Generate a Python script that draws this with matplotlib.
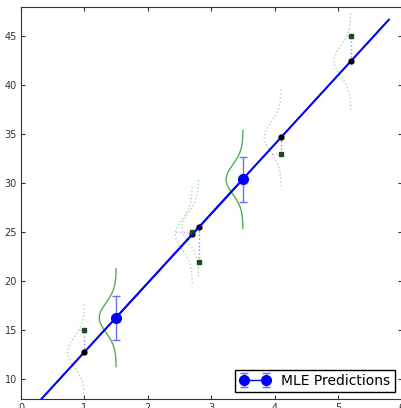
import matplotlib
matplotlib.use('Agg')
import matplotlib.pyplot as plt
import numpy as np

# observed data
x_obs = [1.0, 2.7, 2.8, 4.1, 5.2]
y_obs = [15.0, 25.0, 22.0, 33.0, 45.0]
# fitted values on the line at the observed x
y_fit = [12.8, 24.8, 25.5, 34.7, 42.5]

# MLE predictions with error bars
x_pred = [1.5, 3.5]
y_pred = [16.3, 30.4]
y_err = [2.25, 2.25]

# fitted line end points
line_x = [0.0, 5.8]
line_y = [5.73, 46.7]

sigma = 1.5
half_span = 5.0

fig = plt.figure(figsize=(4.02, 4.08), dpi=100)
ax = fig.add_axes([21/402, 9/408, 380.5/402, 392/408])

ax.plot(line_x, line_y, color='blue', lw=1.5, zorder=3)

def gauss_curve(x0, mu):
    yy = np.linspace(mu - half_span, mu + half_span, 200)
    pdf = np.exp(-0.5*((yy - mu)/sigma)**2) / (sigma*np.sqrt(2*np.pi))
    return x0 - pdf, yy

for xo, yo, yf in zip(x_obs, y_obs, y_fit):
    gx, gy = gauss_curve(xo, yf)
    ax.plot(gx, gy, color='#44bb44', ls=':', lw=1.0, alpha=0.5)
    ax.plot([xo, xo], [yf, yo], color='blue', ls=':', lw=1.0, alpha=0.45)
    p = np.exp(-0.5*((yo - yf)/sigma)**2) / (sigma*np.sqrt(2*np.pi))
    ax.plot([xo - p, xo], [yo, yo], color='magenta', ls=':', lw=1.0, alpha=0.4)
    ax.plot(xo, yf, 'o', color='black', ms=3.5, zorder=4)
    ax.plot(xo, yo, 's', color='#1a4d1a', ms=2.5, zorder=4)

for xp, yp in zip(x_pred, y_pred):
    gx, gy = gauss_curve(xp, yp)
    ax.plot(gx, gy, color='#33a033', lw=1.0, alpha=0.85)

ax.errorbar(x_pred, y_pred, yerr=y_err, fmt='o-', color='blue', ms=7, lw=1.0,
            ecolor='#7070ff', elinewidth=1.0, capsize=3, zorder=5,
            label='MLE Predictions')

ax.set_xlim(0, 6)
ax.set_ylim(8, 48)
ax.set_yticks([10, 15, 20, 25, 30, 35, 40, 45])
ax.tick_params(direction='in', top=True, right=True, labelsize=7, length=3,
               colors='#333333', pad=3)
for s in ax.spines.values():
    s.set_color('#333333')

leg = ax.legend(loc='lower right', numpoints=2, fontsize=10, fancybox=False,
                framealpha=1, borderpad=0.3, handlelength=2.2)
leg.get_frame().set_edgecolor('black')

fig.savefig('out.png', dpi=100)
